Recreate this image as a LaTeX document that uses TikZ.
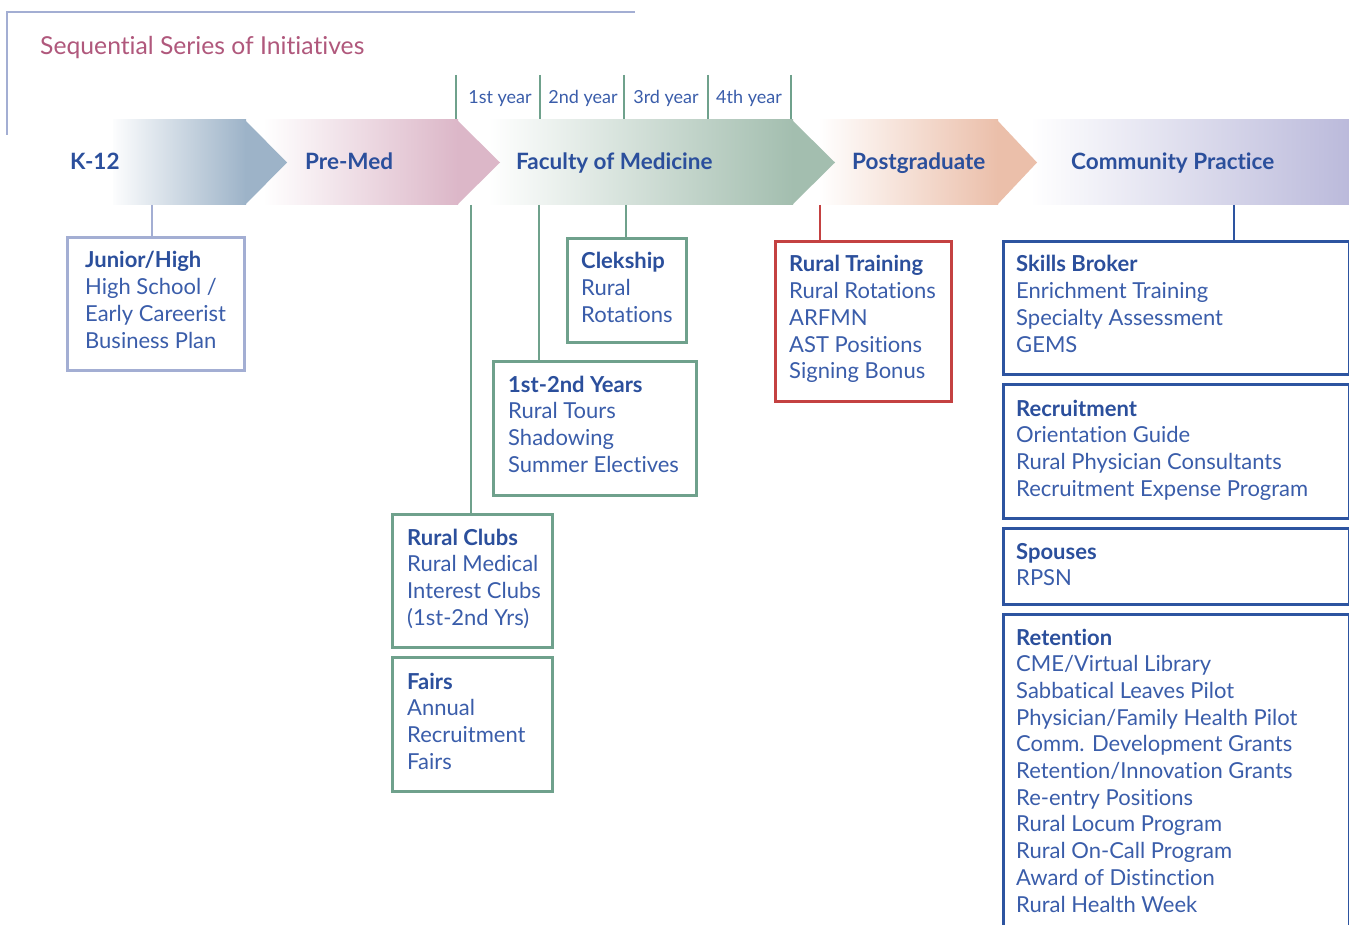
\documentclass[tikz,border=0pt]{standalone}
\usepackage{fontspec}
\setmainfont{Lato}[Ligatures=NoCommon]
\usetikzlibrary{calc}
\definecolor{txtblue}{HTML}{2B4F9C}
\definecolor{itemblue}{HTML}{3A5DAA}
\definecolor{mauve}{HTML}{B0587C}
\definecolor{framelav}{HTML}{A3AED3}
\definecolor{gline}{HTML}{6FA18C}
\definecolor{rline}{HTML}{C44141}
\definecolor{bline}{HTML}{2D54A0}
\definecolor{kcol}{HTML}{9DB3C8}
\definecolor{pcol}{HTML}{DCB7C8}
\definecolor{fcol}{HTML}{A3BEAF}
\definecolor{pgcol}{HTML}{EBBFAA}
\definecolor{ccol}{HTML}{BBBADB}
\newcommand\itemfont{\fontsize{22}{26.7}\selectfont}
\newcommand\hd[1]{{\bfseries\color{txtblue}#1}}
\newcommand\tb[1]{\parbox[t]{340pt}{\raggedright\leavevmode #1}}
\tikzset{
  ibox/.style={draw, fill=white, inner sep=0pt, anchor=north west},
  lbox/.style={ibox, draw=framelav, line width=2.6pt},
  gbox/.style={ibox, draw=gline, line width=2.8pt},
  rbox/.style={ibox, draw=rline, line width=2.8pt},
  bbox/.style={ibox, draw=bline, line width=2.6pt},
  txt/.style={anchor=base west, inner sep=0pt, font=\itemfont, text=itemblue},
  band/.style={anchor=base west, inner sep=0pt, font=\fontsize{22.5}{24}\selectfont\bfseries, text=txtblue},
  yr/.style={anchor=base, inner sep=0pt, font=\fontsize{18}{20}\selectfont, text=itemblue},
  tick/.style={draw=gline, line width=2.5pt},
  conn/.style={line width=2.6pt},
}
\begin{document}
\begin{tikzpicture}[x=1pt,y=-1pt]
\clip (0,0) rectangle (1349,925);
\fill[white] (0,0) rectangle (1349,925);
% title frame
\coordinate (fa) at (7,135);
\coordinate (fb) at (7,12);
\coordinate (fc) at (635,12);
\draw[framelav, line width=2.4pt] (fa) -- (fb) -- (fc);
\node[anchor=base west, inner sep=0pt, font=\fontsize{24.7}{28}\selectfont, text=mauve] (title) at (40,55) {Sequential Series of Initiatives};
% year ticks
\foreach \i/\x in {1/456,2/540,3/624,4/708,5/791}{
  \coordinate (yt\i) at (\x,75);
  \coordinate (yb\i) at (\x,120);
  \draw[tick] (yt\i) -- (yb\i);
}
\node[yr] (y1) at (500,104) {1st year};
\node[yr] (y2) at (583,104) {2nd year};
\node[yr] (y3) at (666,104) {3rd year};
\node[yr] (y4) at (749,104) {4th year};
% bands (right to left)
\shade[left color=white, right color=ccol] (1030,120) rectangle (1349,205);
\shade[left color=white, right color=pgcol] (818,120) rectangle (998,205);
\fill[pgcol] (997,120) -- (1037,162.5) -- (997,205) -- cycle;
\shade[left color=white, right color=fcol] (488,120) rectangle (793,205);
\fill[fcol] (792,120) -- (835,162.5) -- (792,205) -- cycle;
\shade[left color=white, right color=pcol] (263,120) rectangle (458,205);
\fill[pcol] (457,120) -- (500,162.5) -- (457,205) -- cycle;
\shade[left color=white!70!kcol!10, right color=kcol] (113,120) rectangle (246,205);
\fill[kcol] (245,120) -- (287,162.5) -- (245,205) -- cycle;
\node[band] (k12) at (70,170) {K-12};
\node[band] (premed) at (305,170) {Pre-Med};
\node[band] (fom) at (516,170) {Faculty of Medicine};
\node[band] (pg) at (852,170) {Postgraduate};
\node[band] (cp) at (1071,170) {Community Practice};
% band bottom coordinates
\coordinate (ck) at (152,205);
\coordinate (cc1) at (471,205);
\coordinate (cc2) at (539,205);
\coordinate (cc3) at (626,205);
\coordinate (cr) at (820,205);
\coordinate (cb) at (1234,205);
% boxes
\node[lbox, minimum width=177pt, minimum height=133pt] (junior) at (66,236) {};
\node[gbox, minimum width=119pt, minimum height=104pt] (clek) at (566,237) {};
\node[gbox, minimum width=203pt, minimum height=134pt] (years) at (492,360) {};
\node[gbox, minimum width=160pt, minimum height=133pt] (clubs) at (391,513) {};
\node[gbox, minimum width=160pt, minimum height=134pt] (fairs) at (391,656) {};
\node[rbox, minimum width=176pt, minimum height=160pt] (rt) at (774,240) {};
\node[bbox, minimum width=346pt, minimum height=133pt] (skills) at (1002,240) {};
\node[bbox, minimum width=346pt, minimum height=134pt] (recr) at (1002,383) {};
\node[bbox, minimum width=346pt, minimum height=76pt] (spou) at (1002,527) {};
\node[bbox, minimum width=346pt, minimum height=340pt] (ret) at (1002,613) {};
% connectors
\draw[conn, framelav] (ck) -- (ck |- junior.north);
\draw[conn, gline] (cc1) -- (cc1 |- clubs.north);
\draw[conn, gline] (cc2) -- (cc2 |- years.north);
\draw[conn, gline] (cc3) -- (cc3 |- clek.north);
\draw[conn, rline] (cr) -- (cr |- rt.north);
\draw[conn, bline] (cb) -- (cb |- skills.north);
% texts
\node[txt] (juniorT) at (85,268) {\tb{\hd{Junior/High}\\High School /\\Early Careerist\\Business Plan}};
\node[txt] (clekT) at (581,269) {\tb{\hd{Clekship}\\Rural\\Rotations}};
\node[txt] (yearsT) at (508,392) {\tb{\hd{1st-2nd Years}\\Rural Tours\\Shadowing\\Summer Electives}};
\node[txt] (clubsT) at (407,545) {\tb{\hd{Rural Clubs}\\Rural Medical\\Interest Clubs\\(1st-2nd Yrs)}};
\node[txt] (fairsT) at (407,689) {\tb{\hd{Fairs}\\Annual\\Recruitment\\Fairs}};
\node[txt] (rtT) at (789,272) {\tb{\hd{Rural Training}\\Rural Rotations\\ARFMN\\AST Positions\\Signing Bonus}};
\node[txt] (skillsT) at (1016,272) {\tb{\hd{Skills Broker}\\Enrichment Training\\Specialty Assessment\\GEMS}};
\node[txt] (recrT) at (1016,416) {\tb{\hd{Recruitment}\\Orientation Guide\\Rural Physician Consultants\\Recruitment Expense Program}};
\node[txt] (spouT) at (1016,559) {\tb{\hd{Spouses}\\RPSN}};
\node[txt] (retT) at (1016,645) {\tb{\hd{Retention}\\CME/Virtual Library\\Sabbatical Leaves Pilot\\Physician/Family Health Pilot\\Comm. Development Grants\\Retention/Innovation Grants\\Re-entry Positions\\Rural Locum Program\\Rural On-Call Program\\Award of Distinction\\Rural Health Week}};
\end{tikzpicture}
\end{document}
